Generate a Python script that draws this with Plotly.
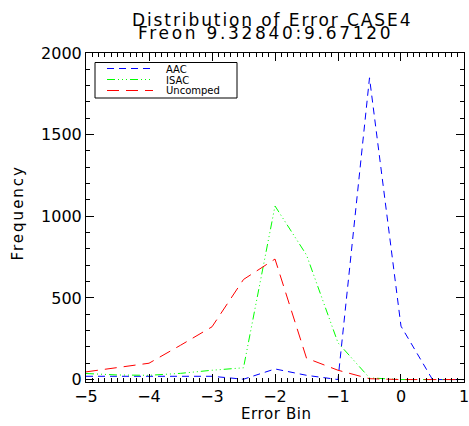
import plotly.graph_objects as go

error_bin = [-5.0, -4.5, -4.0, -3.5, -3.0, -2.5, -2.0, -1.5, -1.0, -0.5, 0.0, 0.5, 1.0]
aac = [20, 20, 22, 18, 20, 2, 65, 26, 0, 1848, 327, 0, 0]
isac = [37, 28, 26, 38, 57, 72, 1063, 763, 225, 10, 0, 0, 0]
uncomped = [47, 75, 100, 210, 323, 613, 738, 131, 57, 5, 0, 0, 0]

series_names = ["AAC", "ISAC", "Uncomped"]
series_colors = ["rgb(0,0,255)", "rgb(0,255,0)", "rgb(255,0,0)"]
series_dash = ["7px,5px", "8px,3px,1px,3px,1px,3px,1px,3px", "12px,7px"]

title_lines = ["Distribution of Error CASE4", "Freon 9.32840:9.67120"]
x_title = "Error Bin"
y_title = "Frequency"
x_tickvals = [-5, -4, -3, -2, -1, 0, 1]
y_tickvals = [0, 500, 1000, 1500, 2000]

FONT = "DejaVu Sans"

FIG_W, FIG_H = 469, 426

# plot area in window pixels: x 86..464, y 53..382
L, R, T, B = 86, 464, 53, 382
W, H = R - L, B - T


def px(xp):
    return (xp - L) / W


def py(yp):
    return (B - yp) / H


def spaced(text, sp):
    return f'<span style="letter-spacing:{sp}px">{text}</span>'


fig = go.Figure()
for name, vals, col, dash in zip(series_names, [aac, isac, uncomped], series_colors, series_dash):
    fig.add_trace(go.Scatter(x=error_bin, y=vals, mode="lines", name=name,
                             line=dict(color=col, width=1, dash=dash),
                             showlegend=False))

shapes = [dict(type="rect", xref="paper", yref="paper",
               x0=px(95), x1=px(237), y0=py(98), y1=py(62.5),
               line=dict(color="black", width=1), fillcolor="white", layer="above")]
annotations = []
for i, (name, col, dash) in enumerate(zip(series_names, series_colors, series_dash)):
    yy = py(68.5 + 11 * i)
    shapes.append(dict(type="line", xref="paper", yref="paper",
                       x0=px(107), x1=px(153), y0=yy, y1=yy,
                       line=dict(color=col, width=1, dash=dash), layer="above"))
    annotations.append(dict(text=name, xref="paper", yref="paper", x=px(165), y=py(69 + 11 * i),
                            xanchor="left", yanchor="middle", showarrow=False, borderpad=0,
                            font=dict(size=10, family=FONT, color="black")))

annotations.append(dict(text=spaced(title_lines[0], 1.9), xref="paper", yref="paper",
                        x=px(272), y=py(19.5),
                        xanchor="center", yanchor="middle", showarrow=False, borderpad=0,
                        font=dict(size=17, family=FONT, color="black")))
annotations.append(dict(text=spaced(title_lines[1], 2.7), xref="paper", yref="paper",
                        x=px(265), y=py(32.5),
                        xanchor="center", yanchor="middle", showarrow=False, borderpad=0,
                        font=dict(size=17, family=FONT, color="black")))
annotations.append(dict(text=spaced(x_title, 0.6), xref="paper", yref="paper", x=px(276), y=py(414),
                        xanchor="center", yanchor="middle", showarrow=False, borderpad=0,
                        font=dict(size=15, family=FONT, color="black")))
annotations.append(dict(text=spaced(y_title, 2), xref="paper", yref="paper", x=px(17.5), y=py(213),
                        xanchor="center", yanchor="middle", showarrow=False, textangle=-90,
                        borderpad=0,
                        font=dict(size=15, family=FONT, color="black")))

fig.update_layout(
    width=FIG_W, height=FIG_H,
    margin=dict(l=L, r=FIG_W - R, t=T, b=FIG_H - B, autoexpand=False),
    paper_bgcolor="white", plot_bgcolor="white",
    font=dict(family=FONT, color="black"),
    showlegend=False,
    shapes=shapes, annotations=annotations,
)
fig.update_xaxes(
    range=[-5, 1.0001], tickmode="array", tickvals=x_tickvals,
    ticktext=[f"\u2212{abs(v)}" if v < 0 else str(v) for v in x_tickvals],
    automargin=False,
    showline=True, linecolor="black", linewidth=1, mirror="allticks",
    ticks="inside", ticklen=8, tickcolor="black",
    minor=dict(dtick=0.1, tick0=-5, ticklen=4, ticks="inside", tickcolor="black"),
    showgrid=False, zeroline=False, ticklabeloverflow="allow",
    tickfont=dict(size=16),
)
fig.update_yaxes(
    range=[-15, 2000], tickmode="array", tickvals=y_tickvals,
    automargin=False,
    showline=True, linecolor="black", linewidth=1, mirror="allticks",
    ticks="inside", ticklen=8, tickcolor="black",
    minor=dict(dtick=100, tick0=0, ticklen=4, ticks="inside", tickcolor="black"),
    showgrid=False, zeroline=False, ticklabeloverflow="allow",
    tickfont=dict(size=16),
)

fig.write_html(
    "out.html",
    config={"displayModeBar": False},
    post_script="document.body.style.margin='0px';document.body.style.overflow='hidden';",
)
